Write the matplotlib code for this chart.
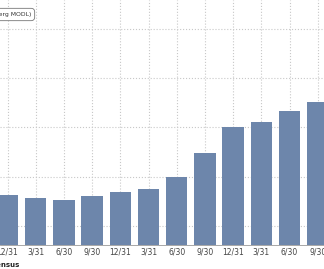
import numpy as np
import matplotlib.pyplot as plt

# quarter-end labels and bar values
quarters = ['12/31', '3/31', '6/30', '9/30', '12/31', '3/31',
            '6/30', '9/30', '12/31', '3/31', '6/30', '9/30']
values = [26.3, 25.7, 25.3, 26.1, 26.9, 27.5,
          30.0, 34.8, 40.1, 41.1, 43.3, 45.2]
grid_levels = [20, 30, 40, 50, 60]

bar_color = '#6d86ab'

fig = plt.figure(figsize=(3.24, 2.69), dpi=100)
# the chart is a crop, so the axes run past the figure edges
ax = fig.add_axes([0, 24 / 269, 1, 1 - 24 / 269])

x = np.arange(len(values))
ax.set_axisbelow(True)
ax.bar(x, values, width=0.76, color=bar_color, zorder=2)

ax.set_xlim(-7.5 / 28.2, (324 - 7.5) / 28.2)
ax.set_ylim(16.1, 65.9)

ax.set_xticks(x)
ax.set_xticklabels(quarters, fontsize=5.5, color='#444444')
ax.set_yticks(grid_levels)
ax.tick_params(axis='x', length=0, pad=2)
ax.tick_params(axis='y', length=0, labelleft=False)

ax.grid(True, color='#c8c8c8', linestyle=':', linewidth=0.8)
for side in ['top', 'left', 'right']:
    ax.spines[side].set_visible(False)
ax.spines['bottom'].set_color('#999999')
ax.spines['bottom'].set_linewidth(0.6)

# legend box and source note, both cut off at the left edge
fig.text(31 / 324, 1 - 14.5 / 269, '(Bloomberg MODL)', ha='right', va='center',
         fontsize=4.4, color='#333333',
         bbox=dict(boxstyle='round,pad=0.6', fc='white', ec='#777777', lw=0.6))
fig.text(20 / 324, 1 - 265 / 269, 'Consensus', ha='right', va='center',
         fontsize=5, fontweight='bold', color='#222222')

fig.savefig('out.png', dpi=100)
